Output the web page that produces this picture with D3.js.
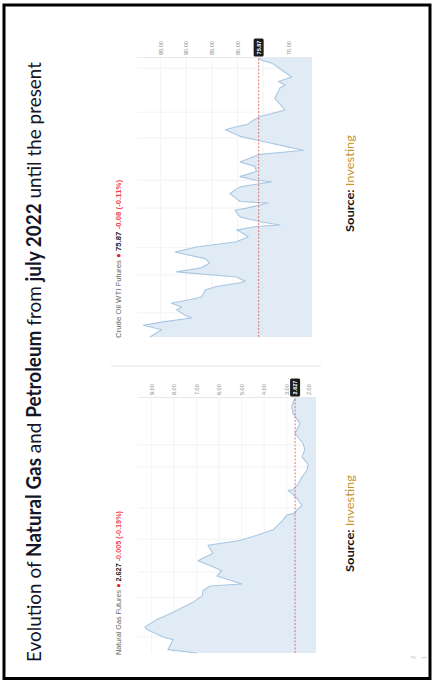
<!DOCTYPE html>
<html>
<head>
<meta charset="utf-8">
<script src="https://cdn.jsdelivr.net/npm/d3@7"></script>
<style>
  html, body { margin: 0; padding: 0; background: #fff; }
  svg { display: block; }
</style>
</head>
<body>
<svg id="page" width="433" height="680"></svg>
<script>
// ---- Slide title (bold parts flagged) ----
const titleParts = [
  { text: "Evolution of ", bold: false },
  { text: "Natural Gas", bold: true },
  { text: " and ", bold: false },
  { text: "Petroleum", bold: true },
  { text: " from ", bold: false },
  { text: "july 2022", bold: true },
  { text: " until the present", bold: false }
];

// ---- Natural Gas Futures (days since 1 Jul 2022, USD/MMBtu) ----
const gasDays   = [0, 5, 20, 24, 35, 39, 50, 61, 76, 85, 93, 100, 103, 115, 123, 129, 138, 149, 161, 168,
                   176, 184, 197, 206, 209, 214, 220, 229, 237, 243, 244, 252, 263, 273, 282, 293, 304, 313,
                   328, 343, 358, 369, 381];
const gasPrices = [6.99, 8.28, 8.05, 8.50, 9.21, 9.30, 8.76, 8.05, 7.16, 6.76, 6.72, 6.41, 4.99, 6.10, 5.88,
                   6.28, 6.94, 6.28, 6.50, 5.08, 4.32, 3.61, 3.21, 2.99, 2.63, 2.54, 2.32, 2.50, 2.72, 2.94,
                   2.72, 2.50, 2.32, 2.10, 2.05, 2.32, 2.19, 2.27, 2.63, 2.41, 2.72, 2.78, 2.627];
const gasTicks  = [2, 3, 4, 5, 6, 7, 8, 9];
const gasGridDays = [24, 83, 121, 170, 217, 278, 311];
const gasQuote  = { name: "Natural Gas Futures", last: "2.627", change: "-0.005 (-0.19%)", value: 2.627 };

// ---- Crude Oil WTI Futures (days since 1 Jul 2022, USD/bbl) ----
const crudeDays   = [0, 10, 16, 21, 26, 30, 37, 41, 46, 53, 55, 64, 69, 74, 76, 82, 89, 94, 101, 107, 116,
                     123, 130, 137, 144, 146, 151, 153, 157, 164, 173, 176, 183, 185, 189, 196, 205, 212, 214,
                     219, 226, 233, 239, 249, 255, 260, 267, 274, 283, 287, 290, 296, 301, 305, 310, 326, 340,
                     344, 349, 355, 365, 374, 378, 381];
const crudePrices = [97.1, 94.8, 98.4, 94.2, 89.0, 90.3, 91.9, 90.9, 92.9, 88.0, 87.0, 86.3, 84.1, 79.5, 78.5,
                     80.2, 91.9, 87.3, 85.4, 86.3, 92.2, 88.0, 80.2, 77.9, 79.5, 80.2, 76.3, 71.7, 75.3, 79.5,
                     80.5, 78.2, 74.0, 79.5, 80.2, 81.5, 79.5, 73.3, 76.3, 79.5, 76.3, 76.6, 79.5, 75.9, 67.1,
                     70.4, 75.0, 79.5, 82.4, 80.2, 78.2, 76.9, 75.6, 73.3, 70.7, 72.7, 71.7, 70.7, 72.0, 69.4,
                     71.4, 73.3, 75.3, 75.87];
const crudeTicks  = [70, 75, 80, 85, 90, 95];
const crudeGridDays = [33, 85, 122, 176, 214, 272, 307, 367];
const crudeQuote  = { name: "Crude Oil WTI Futures", last: "75.87", change: "-0.08 (-0.11%)", value: 75.87 };

const sourceParts = [
  { text: "Source: ", bold: true, color: "#111" },
  { text: "Investing", bold: false, color: "#c8942c" }
];

const svg = d3.select("#page");

// Slide frame
svg.append("rect")
  .attr("x", 4).attr("y", 5).attr("width", 426).attr("height", 673.5)
  .attr("fill", "none").attr("stroke", "#000").attr("stroke-width", 3);

// The slide is laid out landscape and turned a quarter turn counter-clockwise
const slide = svg.append("g").attr("transform", "translate(0,680) rotate(-90)");

const FONT = "'Liberation Sans', Arial, sans-serif";
const TITLE_FONT = "Lato, 'Open Sans', sans-serif";

// Title
const title = slide.append("text")
  .attr("x", 18).attr("y", 41)
  .attr("font-family", TITLE_FONT).attr("font-size", 20)
  .attr("fill", "#151528")
  .attr("textLength", 600).attr("lengthAdjust", "spacingAndGlyphs");
title.selectAll("tspan").data(titleParts).join("tspan")
  .attr("font-weight", d => d.bold ? "bold" : "normal")
  .text(d => d.text);

function drawChart(cfg) {
  const g = slide.append("g");
  const x = d3.scaleLinear().domain([0, 381]).range([cfg.left, cfg.right]);
  const y = d3.scaleLinear().domain(cfg.valueDomain).range(cfg.valueRange);
  const data = cfg.days.map((d, i) => ({ day: d, price: cfg.prices[i] }));

  // time grid
  g.append("g").selectAll("line").data(cfg.gridDays).join("line")
    .attr("x1", d => x(d)).attr("x2", d => x(d))
    .attr("y1", cfg.top).attr("y2", cfg.bottom)
    .attr("stroke", "#eef0f3").attr("stroke-width", 0.8);

  // value grid
  g.append("g").selectAll("line").data(cfg.ticks).join("line")
    .attr("x1", cfg.left).attr("x2", cfg.right)
    .attr("y1", d => y(d)).attr("y2", d => y(d))
    .attr("stroke", "#eef0f3").attr("stroke-width", 0.8);

  // area + line
  const area = d3.area().x(d => x(d.day)).y0(cfg.bottom).y1(d => y(d.price));
  const line = d3.line().x(d => x(d.day)).y(d => y(d.price));
  g.append("path").datum(data).attr("d", area).attr("fill", "#e1ebf5");
  g.append("path").datum(data).attr("d", line)
    .attr("fill", "none").attr("stroke", "#a9c7e2").attr("stroke-width", 1.1)
    .attr("stroke-linejoin", "round");

  // axis edge
  g.append("line")
    .attr("x1", cfg.right + 0.5).attr("x2", cfg.right + 0.5)
    .attr("y1", cfg.top).attr("y2", cfg.bottom)
    .attr("stroke", "#e6e8ec").attr("stroke-width", 1);

  // last price line
  g.append("line")
    .attr("x1", cfg.left).attr("x2", cfg.right)
    .attr("y1", y(cfg.quote.value)).attr("y2", y(cfg.quote.value))
    .attr("stroke", "#d9534f").attr("stroke-width", 0.9)
    .attr("stroke-dasharray", "2,1.5").attr("opacity", 0.85);

  // price axis labels (those under the last price badge are hidden)
  const fmt = d3.format(".2f");
  const visibleTicks = cfg.ticks.filter(t => Math.abs(y(t) - y(cfg.quote.value)) > cfg.hideGap);
  g.append("g").selectAll("text").data(visibleTicks).join("text")
    .attr("x", cfg.right + 3).attr("y", d => y(d) + 2)
    .attr("font-family", FONT).attr("font-size", 5.5).attr("fill", "#888")
    .text(d => fmt(d));

  // last price badge
  const by = y(cfg.quote.value);
  g.append("rect")
    .attr("x", cfg.right + 1.5).attr("y", by - 5).attr("width", 18).attr("height", 10)
    .attr("rx", 1.5).attr("fill", "#1b1b1b");
  g.append("text")
    .attr("x", cfg.right + 10.5).attr("y", by + 2).attr("text-anchor", "middle")
    .attr("font-family", FONT).attr("font-size", 5.5).attr("font-weight", "bold").attr("fill", "#fff")
    .text(cfg.quote.last);

  // instrument label
  const lab = g.append("text")
    .attr("x", cfg.labelX).attr("y", 121)
    .attr("font-family", FONT).attr("font-size", 8)
    .attr("textLength", cfg.labelLen).attr("lengthAdjust", "spacingAndGlyphs");
  lab.append("tspan").attr("fill", "#666").text(cfg.quote.name + " ");
  lab.append("tspan").attr("fill", "#e01e1e").text("\u25CF");
  lab.append("tspan").attr("fill", "#222").attr("font-weight", "bold").text(" " + cfg.quote.last + " ");
  lab.append("tspan").attr("fill", "#f0454a").attr("font-weight", "bold").text(cfg.quote.change);

  // source line
  const src = g.append("text")
    .attr("x", cfg.sourceX).attr("y", 354)
    .attr("font-family", TITLE_FONT).attr("font-size", 12)
    .attr("textLength", 97).attr("lengthAdjust", "spacingAndGlyphs");
  src.selectAll("tspan").data(sourceParts).join("tspan")
    .attr("font-weight", d => d.bold ? "bold" : "normal")
    .attr("fill", d => d.color)
    .text(d => d.text);
}

drawChart({
  days: gasDays, prices: gasPrices, ticks: gasTicks, gridDays: gasGridDays, quote: gasQuote,
  left: 27, right: 282, top: 138, bottom: 316,
  valueDomain: [2, 9], valueRange: [309.2, 151.7], hideGap: 4,
  labelX: 25, labelLen: 144, sourceX: 108
});

drawChart({
  days: crudeDays, prices: crudePrices, ticks: crudeTicks, gridDays: crudeGridDays, quote: crudeQuote,
  left: 343, right: 622, top: 137, bottom: 312,
  valueDomain: [70, 95], valueRange: [288.7, 160.7], hideGap: 6,
  labelX: 342, labelLen: 158, sourceX: 448
});

// divider between the two charts
slide.append("line")
  .attr("x1", 314).attr("x2", 314).attr("y1", 111).attr("y2", 321)
  .attr("stroke", "#dcdcdc").attr("stroke-width", 0.8);

// slide number marks
slide.append("text").attr("x", 21).attr("y", 415)
  .attr("font-family", FONT).attr("font-size", 6).attr("fill", "#a9b8cc").text("2");
slide.append("text").attr("x", 21).attr("y", 426)
  .attr("font-family", FONT).attr("font-size", 6).attr("fill", "#a9b8cc").text("1");
</script>
</body>
</html>
